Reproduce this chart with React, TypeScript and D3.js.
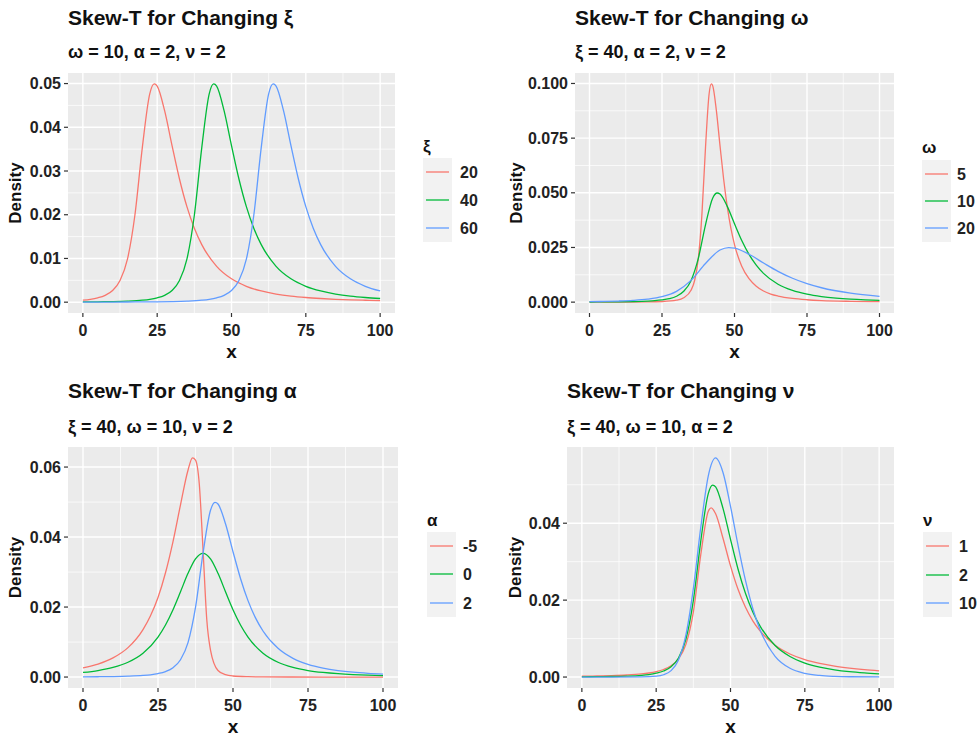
import React from "react";
import * as d3 from "d3";

type Pt = [number, number];

// ---------- Panel 1: changing xi (omega=10, alpha=2, nu=2) ----------
const xi20: Pt[] = [[0,0.00045],[2.5,0.00065],[5,0.00099],[7.5,0.00157],[10,0.00268],[12.5,0.00495],[15,0.00983],[17.5,0.01988],[20,0.03536],[22.5,0.04764],[24,0.04992],[25,0.04943],[27.5,0.0438],[30,0.03581],[32.5,0.02817],[35,0.02184],[37.5,0.01691],[40,0.01316],[45,0.0082],[50,0.00534],[55,0.00363],[60,0.00256],[65,0.00186],[70,0.00139],[75,0.00107],[80,0.00084],[85,0.00066],[90,0.00054],[95,0.00044],[100,0.00037]];
const xi40: Pt[] = [[0,0.00006],[5,0.00009],[10,0.00014],[15,0.00024],[20,0.00045],[22.5,0.00065],[25,0.00099],[27.5,0.00157],[30,0.00268],[32.5,0.00495],[35,0.00983],[37.5,0.01988],[40,0.03536],[42.5,0.04764],[44,0.04992],[45,0.04943],[47.5,0.0438],[50,0.03581],[52.5,0.02817],[55,0.02184],[57.5,0.01691],[60,0.01316],[65,0.0082],[70,0.00534],[75,0.00363],[80,0.00256],[85,0.00186],[90,0.00139],[95,0.00107],[100,0.00084]];
const xi60: Pt[] = [[0,0.00002],[5,0.00002],[10,0.00003],[15,0.00004],[20,0.00006],[25,0.00009],[30,0.00014],[35,0.00024],[40,0.00045],[42.5,0.00065],[45,0.00099],[47.5,0.00157],[50,0.00268],[52.5,0.00495],[55,0.00983],[57.5,0.01988],[60,0.03536],[62.5,0.04764],[64,0.04992],[65,0.04943],[67.5,0.0438],[70,0.03581],[72.5,0.02817],[75,0.02184],[77.5,0.01691],[80,0.01316],[85,0.0082],[90,0.00534],[95,0.00363],[100,0.00256]];

// ---------- Panel 2: changing omega (xi=40, alpha=2, nu=2) ----------
const om5: Pt[] = [[0,0.00002],[10,0.00004],[20,0.00012],[25,0.00028],[30,0.0009],[32.5,0.002],[35,0.0054],[36.25,0.0099],[37.5,0.0197],[38.75,0.0398],[40,0.0707],[41.25,0.0953],[42,0.0998],[42.5,0.0989],[43.75,0.0876],[45,0.0716],[46.25,0.0563],[47.5,0.0437],[48.75,0.0338],[50,0.0263],[52.5,0.0164],[55,0.0107],[57.5,0.0073],[60,0.0051],[62.5,0.0037],[65,0.0028],[70,0.0017],[75,0.0011],[80,0.00073],[90,0.00038],[100,0.00022]];
const om10: Pt[] = xi40;
const om20: Pt[] = [[0,0.00023],[5,0.00033],[10,0.0005],[15,0.00079],[20,0.00134],[25,0.00248],[30,0.00492],[35,0.00994],[40,0.01768],[45,0.02382],[48,0.02496],[50,0.02472],[55,0.0219],[60,0.01791],[65,0.01409],[70,0.01092],[75,0.00846],[80,0.00658],[90,0.0041],[100,0.00267]];

// ---------- Panel 3: changing alpha (xi=40, omega=10, nu=2) ----------
const alNeg5: Pt[] = [[0,0.00261],[5,0.0037],[10,0.00547],[15,0.0084],[20,0.01357],[22.5,0.0175],[25,0.02273],[27.5,0.0298],[30,0.0387],[32.5,0.0492],[35,0.0591],[36.5,0.0626],[37.5,0.062],[38.75,0.0553],[40,0.0366],[41.25,0.01651],[42.5,0.00772],[45,0.00187],[47.5,0.00066],[50,0.0003],[55,0.0001],[60,0.00004],[70,0.00001],[80,0],[100,0]];
const al0: Pt[] = [[0,0.00131],[5,0.00186],[10,0.00274],[15,0.00422],[20,0.0068],[25,0.01141],[27.5,0.01487],[30,0.01925],[32.5,0.02438],[35,0.02963],[37.5,0.03376],[40,0.03536],[42.5,0.03376],[45,0.02963],[47.5,0.02438],[50,0.01925],[52.5,0.01487],[55,0.01141],[60,0.0068],[65,0.00422],[70,0.00274],[75,0.00186],[80,0.00131],[85,0.00095],[90,0.00071],[95,0.00055],[100,0.00043]];
const al2: Pt[] = xi40;

// ---------- Panel 4: changing nu (xi=40, omega=10, alpha=2) ----------
const nu1: Pt[] = [[0,0.00021],[5,0.00027],[10,0.00037],[15,0.00053],[20,0.00081],[22.5,0.00105],[25,0.0014],[27.5,0.00196],[30,0.00292],[32.5,0.00472],[35,0.00849],[37.5,0.01688],[40,0.03183],[42.5,0.04303],[43.5,0.04399],[45,0.04244],[47.5,0.03602],[50,0.02891],[52.5,0.02288],[55,0.01819],[57.5,0.01462],[60,0.01192],[65,0.00826],[70,0.006],[75,0.00453],[80,0.00354],[85,0.00283],[90,0.00232],[95,0.00193],[100,0.00163]];
const nu2: Pt[] = xi40;
const nu10: Pt[] = [[0,0],[10,0],[20,0.00004],[25,0.00022],[27.5,0.0006],[30,0.00166],[32.5,0.00446],[35,0.01097],[37.5,0.023],[40,0.03891],[42.5,0.0522],[45,0.05697],[47.5,0.05313],[50,0.04441],[52.5,0.03442],[55,0.02526],[57.5,0.01782],[60,0.01219],[65,0.00538],[70,0.00228],[75,0.00096],[80,0.00041],[85,0.00018],[90,0.00008],[100,0.00002]];

const xTicks = [0, 25, 50, 75, 100];
const yTicks1 = [0, 0.01, 0.02, 0.03, 0.04, 0.05];
const yTicks2 = [0, 0.025, 0.05, 0.075, 0.1];
const yTicks3 = [0, 0.02, 0.04, 0.06];
const yTicks4 = [0, 0.02, 0.04];

const labels1 = ["20", "40", "60"];
const labels2 = ["5", "10", "20"];
const labels3 = ["-5", "0", "2"];
const labels4 = ["1", "2", "10"];

const COLORS = ["#F8766D", "#00BA38", "#619CFF"];
const FONT = "'Liberation Sans', Arial, Helvetica, sans-serif";

interface PanelProps {
  left: number; right: number; top: number; bottom: number;
  title: string; subtitle: string; titleY: number; subY: number;
  series: Pt[][]; yTicks: number[]; yFmt: string;
  legendTitle: string; legendLabels: string[];
  legX: number; legTitleY: number; legRows: number[]; legLabelX: number;
  densityX: number;
}

function Panel(p: PanelProps) {
  const x = d3.scaleLinear().domain([-5, 105]).range([p.left, p.right]);
  const all = p.series.flat().map((d) => d[1]);
  const ymin = d3.min(all) as number;
  const ymax = d3.max(all) as number;
  const pad = (ymax - ymin) * 0.05;
  const y = d3.scaleLinear().domain([ymin - pad, ymax + pad]).range([p.bottom, p.top]);
  const fmt = d3.format(p.yFmt);
  const step = p.yTicks[1] - p.yTicks[0];
  const yMinor: number[] = [];
  for (let v = p.yTicks[0] - step / 2; v <= ymax + pad; v += step) {
    if (v >= ymin - pad) yMinor.push(v);
  }
  const xMinor = [12.5, 37.5, 62.5, 87.5];
  const line = d3.line<Pt>().x((d) => x(d[0])).y((d) => y(d[1])).curve(d3.curveMonotoneX);
  const cx = (p.left + p.right) / 2;
  const cy = (p.top + p.bottom) / 2;
  return (
    <g fontFamily={FONT}>
      <text x={p.left} y={p.titleY} fontSize={21} fontWeight="bold" fill="#111">{p.title}</text>
      <text x={p.left} y={p.subY} fontSize={18} fontWeight="bold" fill="#111">{p.subtitle}</text>
      <rect x={p.left} y={p.top} width={p.right - p.left} height={p.bottom - p.top} fill="#EBEBEB" />
      {yMinor.map((v, i) => (
        <line key={"ym" + i} x1={p.left} x2={p.right} y1={y(v)} y2={y(v)} stroke="#fff" strokeWidth={0.7} />
      ))}
      {xMinor.map((v, i) => (
        <line key={"xm" + i} x1={x(v)} x2={x(v)} y1={p.top} y2={p.bottom} stroke="#fff" strokeWidth={0.7} />
      ))}
      {p.yTicks.map((v, i) => (
        <line key={"yM" + i} x1={p.left} x2={p.right} y1={y(v)} y2={y(v)} stroke="#fff" strokeWidth={1.4} />
      ))}
      {xTicks.map((v, i) => (
        <line key={"xM" + i} x1={x(v)} x2={x(v)} y1={p.top} y2={p.bottom} stroke="#fff" strokeWidth={1.4} />
      ))}
      {p.series.map((s, i) => (
        <path key={"s" + i} d={line(s) || ""} fill="none" stroke={COLORS[i]} strokeWidth={1.3} />
      ))}
      {p.yTicks.map((v, i) => (
        <g key={"yt" + i}>
          <line x1={p.left - 4} x2={p.left} y1={y(v)} y2={y(v)} stroke="#333" strokeWidth={1.2} />
          <text x={p.left - 7} y={y(v) + 5.5} textAnchor="end" fontSize={16} fontWeight="bold" fill="#222">{fmt(v)}</text>
        </g>
      ))}
      {xTicks.map((v, i) => (
        <g key={"xt" + i}>
          <line x1={x(v)} x2={x(v)} y1={p.bottom} y2={p.bottom + 4} stroke="#333" strokeWidth={1.2} />
          <text x={x(v)} y={p.bottom + 23} textAnchor="middle" fontSize={16} fontWeight="bold" fill="#222">{v}</text>
        </g>
      ))}
      <text x={cx} y={p.bottom + 45} textAnchor="middle" fontSize={19} fontWeight="bold" fill="#111">x</text>
      <text transform={`translate(${p.densityX},${cy}) rotate(-90)`} textAnchor="middle" fontSize={17} fontWeight="bold" fill="#111">Density</text>
      <text x={p.legX} y={p.legTitleY} fontSize={17} fontWeight="bold" fill="#111">{p.legendTitle}</text>
      <rect x={p.legX} y={p.legRows[0] - 14} width={29} height={p.legRows[2] - p.legRows[0] + 28} fill="#F2F2F2" />
      {p.legendLabels.map((lab, i) => (
        <g key={"lg" + i}>
          <line x1={p.legX + 3} x2={p.legX + 26} y1={p.legRows[i]} y2={p.legRows[i]} stroke={COLORS[i]} strokeWidth={1.3} />
          <text x={p.legLabelX} y={p.legRows[i] + 6} fontSize={16} fontWeight="bold" fill="#222">{lab}</text>
        </g>
      ))}
    </g>
  );
}

export default function App() {
  return (
    <svg width={980} height={736} style={{ position: "absolute", left: 0, top: 0, background: "#fff" }}>
      <Panel left={68} right={395} top={73} bottom={313} title="Skew-T for Changing ξ" subtitle="ω = 10, α = 2, ν = 2"
        titleY={25} subY={58} series={[xi20, xi40, xi60]} yTicks={yTicks1} yFmt=".2f"
        legendTitle="ξ" legendLabels={labels1} legX={423} legTitleY={152} legRows={[172, 200, 228]} legLabelX={460} densityX={21} />
      <Panel left={575} right={894} top={73} bottom={313} title="Skew-T for Changing ω" subtitle="ξ = 40, α = 2, ν = 2"
        titleY={25} subY={58} series={[om5, om10, om20]} yTicks={yTicks2} yFmt=".3f"
        legendTitle="ω" legendLabels={labels2} legX={922} legTitleY={153} legRows={[174, 201, 228]} legLabelX={957} densityX={522} />
      <Panel left={68} right={398} top={447} bottom={688} title="Skew-T for Changing α" subtitle="ξ = 40, ω = 10, ν = 2"
        titleY={398} subY={433} series={[alNeg5, al0, al2]} yTicks={yTicks3} yFmt=".2f"
        legendTitle="α" legendLabels={labels3} legX={427} legTitleY={526} legRows={[546, 574, 603]} legLabelX={463} densityX={21} />
      <Panel left={567} right={894} top={447} bottom={688} title="Skew-T for Changing ν" subtitle="ξ = 40, ω = 10, α = 2"
        titleY={398} subY={433} series={[nu1, nu2, nu10]} yTicks={yTicks4} yFmt=".2f"
        legendTitle="ν" legendLabels={labels4} legX={923} legTitleY={526} legRows={[546, 575, 603]} legLabelX={959} densityX={521} />
    </svg>
  );
}
